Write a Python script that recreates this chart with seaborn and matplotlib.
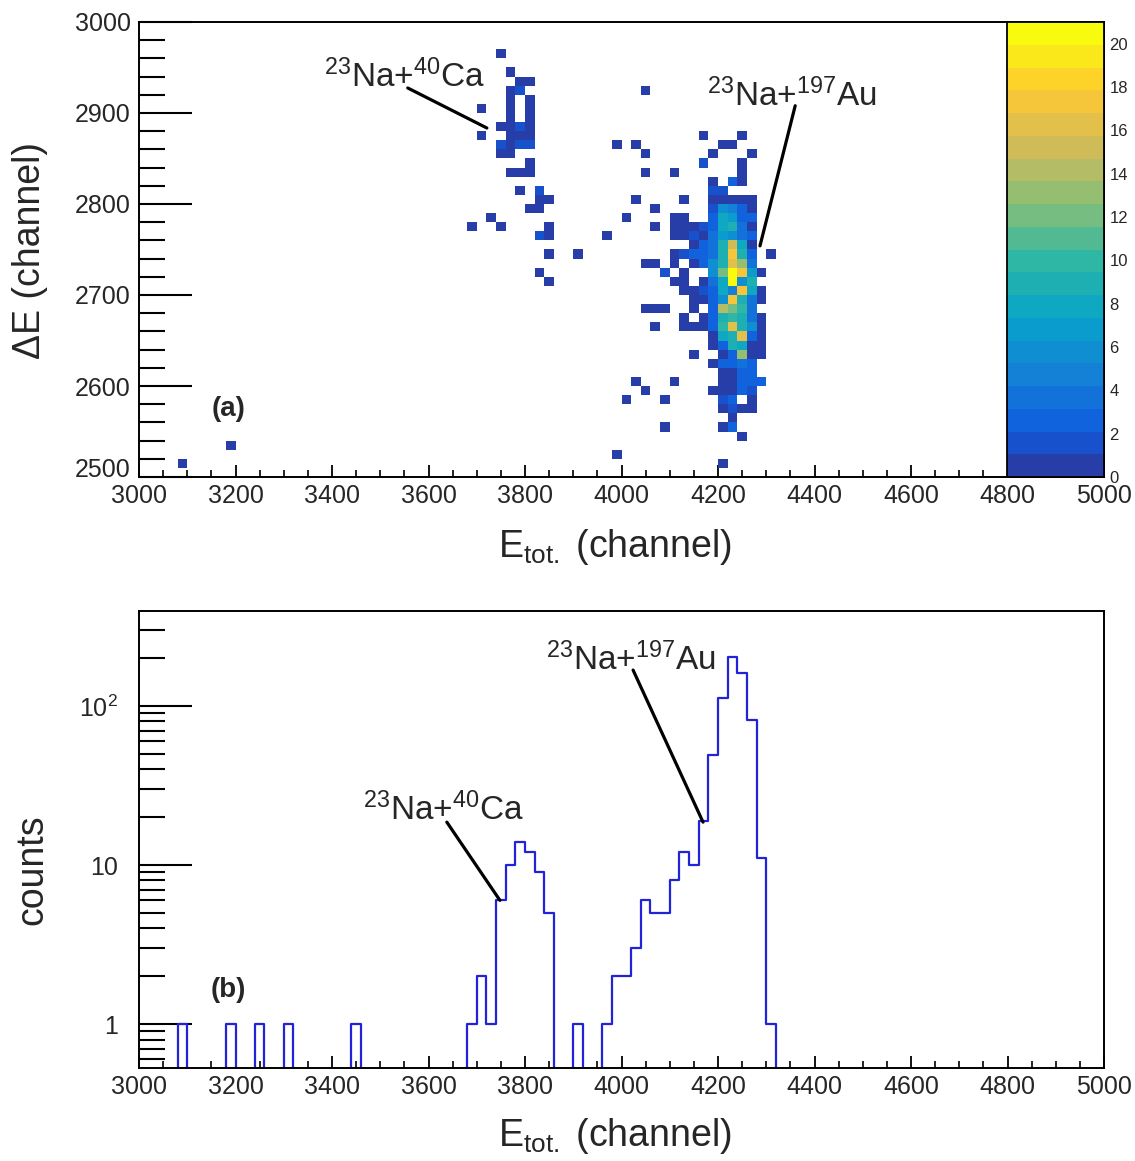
import numpy as np
import pandas as pd
import matplotlib
matplotlib.use("Agg")
import matplotlib.pyplot as plt
from matplotlib.colors import LinearSegmentedColormap, ListedColormap
from matplotlib.ticker import MultipleLocator, FixedLocator, LogLocator, FuncFormatter, NullFormatter
import seaborn as sns

# --- dE-E matrix (20 ch x 10 ch bins), dense part of the 23Na+197Au group
# columns = E bin low edge, rows = dE bin low edge
core_e = [4180, 4200, 4220, 4240, 4260, 4280]
core_de = [2800, 2790, 2780, 2770, 2760, 2750, 2740, 2730, 2720, 2710, 2700,
           2690, 2680, 2670, 2660, 2650, 2640, 2630, 2620, 2610, 2600, 2590]
core_counts = [
    [1, 1, 1, 1, 1, 0],
    [2, 6, 5, 3, 1, 0],
    [3, 8, 7, 3, 3, 0],
    [3, 8, 9, 4, 1, 0],
    [4, 7, 6, 4, 3, 0],
    [4, 9, 15, 8, 1, 0],
    [4, 9, 17, 9, 3, 0],
    [6, 9, 16, 13, 4, 0],
    [6, 12, 21, 17, 7, 1],
    [4, 8, 20, 6, 9, 0],
    [3, 8, 5, 17, 8, 1],
    [3, 6, 17, 9, 4, 1],
    [3, 14, 12, 10, 4, 0],
    [3, 9, 10, 9, 4, 1],
    [3, 10, 16, 9, 6, 1],
    [1, 8, 9, 16, 3, 1],
    [1, 3, 9, 8, 1, 1],
    [0, 1, 3, 13, 1, 1],
    [1, 3, 3, 4, 3, 0],
    [0, 1, 1, 3, 3, 0],
    [0, 1, 1, 3, 3, 3],
    [1, 1, 1, 3, 2, 0],
]

# rest of the matrix: (E low edge, dE low edge, counts)
au_side_cells = [
    (4160, 2870, 1), (4240, 2870, 1),
    (3980, 2860, 1), (4020, 2860, 1), (4200, 2860, 1), (4220, 2860, 1),
    (4040, 2850, 1), (4180, 2850, 1), (4260, 2850, 1),
    (4160, 2840, 2), (4240, 2840, 1),
    (4040, 2830, 1), (4100, 2830, 1), (4240, 2830, 1),
    (4180, 2820, 1), (4220, 2820, 3), (4240, 2820, 1),
    (4180, 2810, 2), (4200, 2810, 2),
    (4020, 2800, 1), (4120, 2800, 1),
    (4060, 2790, 1),
    (4000, 2780, 1), (4100, 2780, 1), (4120, 2780, 1),
    (4060, 2770, 1), (4100, 2770, 1), (4120, 2770, 1), (4140, 2770, 1), (4160, 2770, 2),
    (3960, 2760, 1), (4100, 2760, 1), (4120, 2760, 1), (4140, 2760, 2), (4160, 2760, 1),
    (4140, 2750, 1), (4160, 2750, 3),
    (4100, 2740, 1), (4120, 2740, 2), (4140, 2740, 3), (4160, 2740, 3), (4300, 2740, 1),
    (4040, 2730, 1), (4060, 2730, 1), (4100, 2730, 1), (4140, 2730, 1), (4160, 2730, 3),
    (4080, 2720, 2), (4120, 2720, 1),
    (4100, 2710, 1), (4120, 2710, 1), (4160, 2710, 1),
    (4120, 2700, 1), (4140, 2700, 1), (4160, 2700, 2),
    (4140, 2690, 1), (4160, 2690, 1),
    (4040, 2680, 1), (4060, 2680, 1), (4080, 2680, 1), (4140, 2680, 1),
    (4120, 2670, 1), (4160, 2670, 1),
    (4060, 2660, 1), (4120, 2660, 1), (4140, 2660, 1), (4160, 2660, 1),
    (4140, 2630, 1),
    (4020, 2600, 1), (4100, 2600, 1),
    (4040, 2590, 1),
    (4000, 2580, 1), (4080, 2580, 1), (4200, 2580, 2), (4220, 2580, 3), (4260, 2580, 1),
    (4200, 2570, 1), (4220, 2570, 2), (4240, 2570, 1), (4260, 2570, 1),
    (4220, 2560, 1),
    (4080, 2550, 1), (4200, 2550, 1), (4220, 2550, 3),
    (4240, 2540, 1),
    (3980, 2520, 1),
    (4200, 2510, 1),
]
ca_cells = [
    (3740, 2960, 1),
    (3760, 2940, 1),
    (3780, 2930, 1), (3800, 2930, 1),
    (3760, 2920, 1), (3780, 2920, 2),
    (3760, 2910, 1), (3800, 2910, 1),
    (3700, 2900, 1), (3760, 2900, 1), (3800, 2900, 1),
    (3760, 2890, 1), (3800, 2890, 1),
    (3740, 2880, 1), (3760, 2880, 1), (3780, 2880, 2), (3800, 2880, 1),
    (3700, 2870, 1), (3760, 2870, 1), (3780, 2870, 1), (3800, 2870, 1),
    (3740, 2860, 2), (3760, 2860, 1), (3780, 2860, 2), (3800, 2860, 2),
    (3740, 2850, 1), (3760, 2850, 1),
    (3800, 2840, 1),
    (3760, 2830, 1), (3780, 2830, 1), (3800, 2830, 1),
    (3780, 2810, 1), (3820, 2810, 2),
    (3820, 2800, 1), (3840, 2800, 1),
    (3800, 2790, 1), (3820, 2790, 1),
    (3720, 2780, 1),
    (3680, 2770, 1), (3740, 2770, 1), (3840, 2770, 1),
    (3820, 2760, 2), (3840, 2760, 1),
    (3840, 2740, 1), (3900, 2740, 1),
    (3820, 2720, 1),
    (3840, 2710, 1),
]
stray_cells = [(3080, 2510, 1), (3180, 2530, 1), (4040, 2920, 1)]

# --- E_tot. projection (20 ch bins): bin low edge and counts
proj_e = [3080, 3180, 3240, 3300, 3440,
          3680, 3700, 3720, 3740, 3760, 3780, 3800, 3820, 3840,
          3900,
          3960, 3980, 4000, 4020, 4040, 4060, 4080, 4100, 4120, 4140,
          4160, 4180, 4200, 4220, 4240, 4260, 4280, 4300]
proj_counts = [1, 1, 1, 1, 1,
               1, 2, 1, 6, 10, 14, 12, 9, 5,
               1,
               1, 2, 2, 3, 6, 5, 5, 8, 12, 10,
               19, 49, 112, 202, 161, 81, 11, 1]

palette_ticks = list(range(0, 21, 2))

# ROOT kBird palette, 20 contour bands between 0 and 21
bird_stops = [0.0, 0.125, 0.25, 0.375, 0.5, 0.625, 0.75, 0.875, 1.0]
bird_r = [0.2082, 0.0592, 0.0780, 0.0232, 0.1802, 0.5301, 0.8186, 0.9956, 0.9764]
bird_g = [0.1664, 0.3599, 0.5041, 0.6419, 0.7178, 0.7492, 0.7328, 0.7862, 0.9832]
bird_b = [0.5293, 0.8684, 0.8385, 0.7914, 0.6425, 0.4662, 0.3499, 0.1968, 0.0539]
bird = LinearSegmentedColormap.from_list("bird", list(zip(bird_stops, zip(bird_r, bird_g, bird_b))))
bird20 = ListedColormap([bird((k + 0.99) / 20) for k in range(20)])

sns.set_style("ticks")
plt.rcParams["font.family"] = ["Liberation Sans", "DejaVu Sans"]
plt.rcParams["mathtext.fontset"] = "custom"
plt.rcParams["mathtext.rm"] = "Liberation Sans"
plt.rcParams["mathtext.it"] = "Liberation Sans:italic"
plt.rcParams["mathtext.bf"] = "Liberation Sans:bold"
plt.rcParams["axes.edgecolor"] = "black"

# build the cell table (bin centres)
ee, dd = np.meshgrid(core_e, core_de)
nn = np.array(core_counts)
keep = nn > 0
other = np.array(au_side_cells + ca_cells + stray_cells)
cells = pd.DataFrame({
    "e": np.concatenate([ee[keep], other[:, 0]]) + 10,
    "de": np.concatenate([dd[keep], other[:, 1]]) + 5,
    "n": np.concatenate([nn[keep], other[:, 2]]),
})

W, H = 1135, 1161
fig = plt.figure(figsize=(W / 100, H / 100), dpi=100)


def box(l, t, r, b):
    return [l / W, 1 - b / H, (r - l) / W, (b - t) / H]


ax1 = fig.add_axes(box(139, 22, 1104, 477))
cax = fig.add_axes(box(1007, 22, 1104, 477))
ax2 = fig.add_axes(box(139, 611, 1104, 1068))

# ---- (a) dE vs E matrix
sns.histplot(data=cells, x="e", y="de", weights="n", binwidth=(20, 10),
             binrange=((3000, 5000), (2500, 3000)), cmap=bird20, vmin=0, vmax=21,
             cbar=True, cbar_ax=cax, ax=ax1)
ax1.set_xlim(3000, 5000)
ax1.set_ylim(2500, 3000)
ax1.xaxis.set_major_locator(MultipleLocator(200))
ax1.xaxis.set_minor_locator(MultipleLocator(50))
ax1.yaxis.set_major_locator(MultipleLocator(100))
ax1.yaxis.set_minor_locator(MultipleLocator(20))
# lowest dE label is lifted a bit (as ROOT does) so it clears the x labels
ax1.yaxis.set_major_formatter(FuncFormatter(lambda v, p: "" if v <= 2500 else f"{v:.0f}"))
ax1.text(-0.0093, 0.016, "2500", transform=ax1.transAxes, ha="right", va="center", fontsize=18)
ax1.tick_params(which="both", direction="in", top=False, right=False, color="black")
ax1.tick_params(axis="x", which="major", length=9, width=1.3, labelsize=18, pad=5)
ax1.tick_params(axis="x", which="minor", length=5, width=1.2)
ax1.tick_params(axis="y", which="major", length=38, width=1.5, labelsize=18, pad=6)
ax1.tick_params(axis="y", which="minor", length=19, width=1.5)
for s in ax1.spines.values():
    s.set_linewidth(1.4)
ax1.set_ylabel("ΔE (channel)", fontsize=27)
ax1.yaxis.set_label_coords(-0.094, 0.497)
ax1.set_xlabel(r"E$_{\mathrm{tot.}}$ (channel)", fontsize=27)
ax1.xaxis.label.set_va("baseline")
ax1.xaxis.set_label_coords(0.493, -0.176)

ax1.text(3551, 2928.6, r"$^{23}$Na+$^{40}$Ca", ha="center", va="baseline", fontsize=24)
ax1.plot([3557, 3721], [2927.5, 2883.5], color="black", lw=2.3)
ax1.text(4353, 2907.7, r"$^{23}$Na+$^{197}$Au", ha="center", va="baseline", fontsize=24)
ax1.plot([4360, 4287], [2908, 2754], color="black", lw=2.3)
ax1.text(3186, 2567, "(a)", ha="center", va="baseline", fontsize=20, fontweight="bold")

# palette
cax.set_ylim(0, 21)
cax.yaxis.set_ticks_position("right")
cax.yaxis.set_major_locator(FixedLocator(palette_ticks))
cax.tick_params(axis="y", which="major", direction="in", length=36, width=1.3,
                labelsize=12, pad=4, color="black")
cax.tick_params(axis="y", which="minor", length=0)
for s in cax.spines.values():
    s.set_linewidth(1.3)
    s.set_edgecolor("black")

# ---- (b) E_tot. projection
proj_x = np.array(proj_e) + 10
sns.histplot(x=proj_x, weights=proj_counts, binwidth=20, binrange=(3000, 5000),
             element="step", fill=False, color="#2222d8", linewidth=1.6, ax=ax2)
ax2.set_yscale("log", nonpositive="clip")
ax2.set_xlim(3000, 5000)
ax2.set_ylim(0.53, 395)
ax2.xaxis.set_major_locator(MultipleLocator(200))
ax2.xaxis.set_minor_locator(MultipleLocator(50))
ax2.yaxis.set_major_locator(FixedLocator([1, 10, 100]))
ax2.yaxis.set_major_formatter(FuncFormatter(lambda v, p: {1: "1", 10: "10", 100: r"$10^{2}$"}.get(int(round(v)), "")))
ax2.yaxis.set_minor_locator(LogLocator(base=10, subs=range(2, 10)))
ax2.yaxis.set_minor_formatter(NullFormatter())
ax2.tick_params(which="both", direction="in", top=False, right=False, color="black")
ax2.tick_params(axis="x", which="major", length=9, width=1.3, labelsize=18, pad=5)
ax2.tick_params(axis="x", which="minor", length=5, width=1.2)
ax2.tick_params(axis="y", which="major", length=38, width=1.5, labelsize=18, pad=15)
ax2.tick_params(axis="y", which="minor", length=19, width=1.5)
for s in ax2.spines.values():
    s.set_linewidth(1.4)
ax2.set_ylabel("counts", fontsize=27)
ax2.yaxis.set_label_coords(-0.092, 0.433)
ax2.set_xlabel(r"E$_{\mathrm{tot.}}$ (channel)", fontsize=27)
ax2.xaxis.label.set_va("baseline")
ax2.xaxis.set_label_coords(0.493, -0.17)

ax2.text(4020, 168, r"$^{23}$Na+$^{197}$Au", ha="center", va="baseline", fontsize=24)
ax2.plot([4024, 4169], [168, 18.6], color="black", lw=2.3)
ax2.text(3632, 19.2, r"$^{23}$Na+$^{40}$Ca", ha="center", va="baseline", fontsize=24)
ax2.plot([3638, 3748], [18.6, 6.0], color="black", lw=2.3)
ax2.text(3186, 1.48, "(b)", ha="center", va="baseline", fontsize=20, fontweight="bold")

fig.savefig("out.png", dpi=100)
